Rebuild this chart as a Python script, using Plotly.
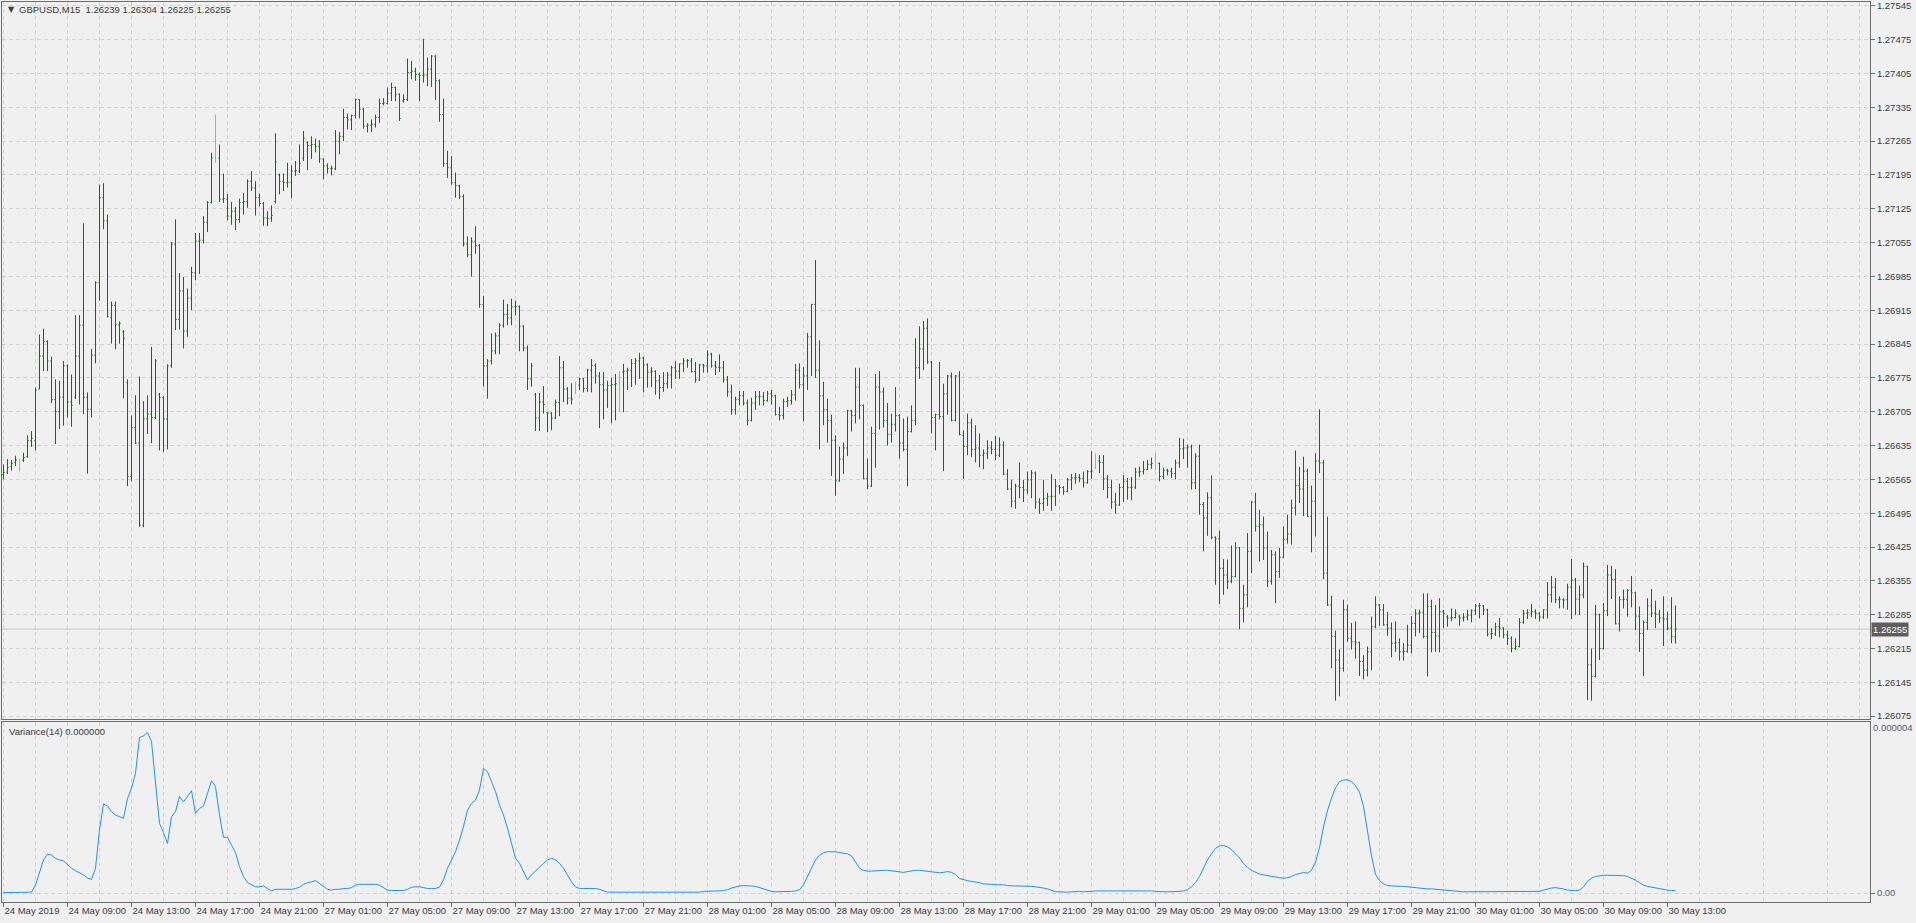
import plotly.graph_objects as go

# ---------------- data (prices in points, 1 point = 0.00001) ----------------
open_pts = [
126575,126580,126592,126600,126600,126605,126612,126645,126645,126752,
126820,126850,126810,126730,126705,126735,126800,126725,126735,126820,
126884,126735,126710,126822,126972,127148,127100,126900,126925,126885,
126870,126765,126571,126672,126640,126470,126690,126700,126693,126740,
126734,126690,126800,127052,126896,126955,126872,126940,126993,127058,
127060,127097,127138,127230,127230,127145,127145,127110,127120,127103,
127138,127140,127182,127168,127148,127136,127106,127106,127140,127195,
127182,127179,127180,127203,127203,127230,127262,127256,127258,127254,
127228,127214,127208,127208,127265,127275,127314,127309,127318,127351,
127331,127296,127298,127300,127314,127343,127343,127364,127376,127362,
127348,127351,127407,127410,127403,127401,127402,127414,127441,127390,
127320,127219,127210,127179,127173,127150,127052,127030,127058,127049,
126927,126800,126810,126831,126862,126884,126906,126899,126922,126922,
126882,126837,126773,126740,126692,126725,126703,126702,126692,126724,
126796,126752,126733,126760,126760,126773,126753,126791,126801,126779,
126761,126750,126759,126761,126787,126787,126789,126791,126805,126810,
126816,126802,126787,126788,126769,126755,126763,126781,126796,126789,
126804,126810,126810,126788,126771,126802,126800,126824,126800,126797,
126796,126771,126746,126709,126730,126738,126723,126687,126723,126736,
126736,126728,126742,126738,126699,126697,126726,126728,126740,126791,
126761,126779,126860,126927,126791,126738,126709,126687,126646,126562,
126607,126630,126707,126697,126756,126718,126567,126551,126660,126756,
126746,126687,126658,126679,126697,126640,126627,126664,126687,126796,
126835,126878,126808,126693,126699,126695,126742,126779,126687,126779,
126656,126633,126682,126627,126630,126615,126619,126630,126627,126615,
126636,126576,126545,126520,126551,126548,126543,126564,126578,126518,
126515,126525,126529,126530,126551,126548,126540,126564,126568,126569,
126567,126558,126581,126603,126603,126600,126566,126548,126518,126512,
126548,126561,126548,126549,126580,126581,126585,126596,126598,126598,
126571,126584,126582,126577,126599,126628,126630,126632,126558,126613,
126513,126485,126527,126445,126442,126381,126367,126354,126364,126423,
126298,126326,126416,126518,126468,126471,126423,126354,126409,126374,
126404,126441,126452,126506,126552,126545,126582,126488,126520,126603,
126599,126371,126305,126240,126191,126174,126295,126236,126229,126227,
126188,126170,126208,126260,126305,126295,126264,126257,126226,126227,
126208,126209,126222,126267,126288,126289,126240,126302,126248,126241,
126291,126280,126278,126279,126282,126278,126280,126284,126293,126303,
126303,126295,126245,126245,126260,126257,126243,126236,126215,126219,
126269,126288,126288,126291,126288,126280,126295,126326,126342,126316,
126316,126316,126342,126357,126317,126326,126385,126181,126157,126285,
126215,126293,126367,126358,126266,126316,126316,126335,126330,126282,
126246,126269,126303,126288,126286,126278,126276,126257,126239]

high_pts = [
126596,126607,126605,126614,126607,126620,126656,126665,126755,126865,
126877,126853,126819,126772,126769,126810,126803,126782,126905,126905,
127095,126745,126835,126975,127175,127178,127113,126933,126933,126892,
126874,126772,126697,126739,126778,126727,126739,126839,126814,126744,
126737,126803,127056,127103,126992,126984,126960,127005,127075,127075,
127110,127141,127241,127320,127258,127198,127156,127139,127129,127146,
127158,127186,127203,127182,127156,127139,127120,127132,127281,127198,
127198,127220,127215,127224,127258,127286,127265,127275,127270,127267,
127229,127219,127214,127288,127284,127332,127322,127320,127353,127352,
127334,127302,127310,127320,127353,127354,127376,127386,127378,127364,
127362,127436,127431,127417,127407,127477,127438,127443,127443,127393,
127353,127245,127234,127200,127175,127155,127068,127066,127089,127052,
126945,126814,126867,126869,126888,126937,126928,126939,126935,126925,
126884,126842,126806,126744,126744,126758,126704,126704,126730,126820,
126810,126756,126764,126767,126775,126775,126794,126814,126805,126787,
126787,126769,126775,126783,126789,126804,126796,126814,126816,126827,
126819,126805,126797,126791,126781,126787,126787,126800,126810,126805,
126816,126814,126816,126808,126804,126804,126832,126827,126810,126824,
126810,126779,126761,126736,126748,126748,126730,126734,126748,126748,
126746,126748,126750,126740,126715,126732,126736,126750,126804,126805,
126797,126868,126928,127019,126853,126767,126732,126699,126656,126633,
126641,126709,126709,126796,126796,126720,126608,126674,126783,126789,
126755,126723,126701,126756,126700,126691,126695,126718,126857,126882,
126893,126898,126810,126701,126808,126763,126781,126786,126781,126789,
126666,126701,126691,126677,126660,126627,126646,126644,126655,126652,
126644,126586,126564,126556,126600,126564,126581,126584,126581,126526,
126564,126537,126576,126566,126553,126551,126568,126576,126578,126576,
126581,126584,126623,126619,126615,126615,126574,126564,126537,126556,
126574,126568,126570,126589,126591,126603,126605,126610,126620,126600,
126589,126587,126589,126606,126651,126649,126637,126637,126619,126637,
126518,126538,126573,126447,126459,126400,126399,126428,126435,126425,
126347,126454,126520,126537,126502,126488,126457,126419,126416,126423,
126468,126492,126523,126625,126591,126612,126587,126552,126619,126710,
126605,126488,126324,126252,126213,126316,126306,126268,126271,126229,
126201,126219,126281,126323,126307,126307,126291,126269,126271,126236,
126226,126264,126282,126296,126295,126329,126329,126316,126305,126319,
126295,126284,126298,126296,126284,126288,126295,126296,126307,126309,
126305,126297,126257,126268,126278,126259,126252,126240,126236,126278,
126295,126296,126307,126296,126290,126296,126352,126365,126361,126323,
126319,126349,126400,126361,126345,126393,126386,126215,126305,126287,
126309,126388,126386,126379,126323,126337,126338,126365,126332,126302,
126273,126319,126338,126314,126295,126323,126291,126321,126304]

low_pts = [
126565,126576,126583,126593,126581,126601,126610,126632,126625,126752,
126789,126789,126723,126638,126669,126676,126693,126674,126731,126720,
126700,126577,126693,126805,126935,127083,126900,126846,126834,126846,
126733,126551,126561,126638,126467,126466,126659,126640,126690,126625,
126622,126627,126796,126874,126875,126836,126860,126915,126977,126990,
127053,127077,127136,127220,127139,127137,127101,127092,127081,127096,
127113,127127,127162,127111,127130,127090,127089,127098,127136,127155,
127162,127169,127147,127193,127199,127224,127205,127228,127242,127220,
127186,127198,127194,127205,127238,127265,127289,127288,127312,127312,
127291,127283,127284,127293,127303,127339,127341,127348,127348,127307,
127345,127348,127393,127390,127348,127386,127379,127377,127350,127305,
127212,127189,127175,127148,127145,127047,127025,126985,127032,126920,
126757,126732,126803,126824,126824,126879,126884,126884,126904,126830,
126830,126750,126757,126665,126665,126701,126663,126667,126690,126696,
126725,126720,126720,126742,126750,126745,126746,126745,126763,126671,
126689,126713,126681,126687,126705,126704,126750,126756,126761,126773,
126745,126755,126756,126740,126731,126746,126753,126753,126773,126773,
126787,126796,126786,126765,126769,126786,126786,126796,126781,126787,
126765,126736,126699,126699,126718,126718,126677,126685,126709,126718,
126718,126726,126720,126697,126687,126689,126715,126720,126728,126753,
126685,126750,126779,126775,126627,126677,126641,126572,126531,126560,
126576,126613,126664,126681,126689,126565,126545,126549,126589,126668,
126672,126635,126641,126664,126608,126623,126551,126662,126677,126773,
126791,126804,126660,126625,126689,126582,126699,126685,126685,126656,
126566,126615,126611,126600,126590,126586,126607,126617,126605,126611,
126574,126543,126507,126504,126526,126518,126535,126526,126504,126494,
126500,126510,126500,126510,126535,126533,126538,126543,126556,126559,
126548,126556,126566,126586,126578,126543,126526,126504,126494,126510,
126518,126523,126522,126545,126570,126575,126584,126587,126584,126561,
126565,126573,126568,126565,126589,126607,126589,126544,126545,126492,
126416,126448,126441,126347,126307,126326,126338,126350,126362,126255,
126269,126300,126371,126457,126395,126398,126342,126347,126309,126361,
126402,126432,126430,126490,126516,126489,126487,126414,126447,126578,
126358,126303,126174,126107,126116,126167,126229,126213,126194,126158,
126151,126157,126170,126257,126262,126262,126241,126197,126208,126190,
126190,126206,126205,126240,126247,126236,126157,126207,126208,126207,
126257,126260,126271,126277,126262,126271,126273,126269,126284,126277,
126284,126240,126234,126241,126238,126236,126222,126207,126212,126217,
126266,126276,126280,126276,126271,126276,126277,126310,126309,126298,
126298,126295,126276,126284,126284,126319,126108,126107,126155,126191,
126213,126282,126317,126265,126250,126298,126281,126300,126253,126208,
126158,126253,126280,126257,126268,126220,126253,126226,126225]

close_pts = [
126579,126590,126598,126605,126600,126610,126645,126650,126750,126820,
126850,126810,126730,126705,126735,126800,126725,126718,126820,126884,
126735,126710,126822,126972,127148,127100,126902,126925,126885,126888,
126857,126571,126672,126640,126470,126690,126700,126693,126810,126734,
126690,126800,127052,126896,126955,126872,126940,126993,127058,127060,
127097,127138,127230,127230,127145,127146,127110,127120,127103,127138,
127140,127182,127168,127148,127136,127106,127105,127111,127222,127182,
127179,127180,127203,127204,127219,127271,127256,127258,127254,127228,
127214,127208,127209,127265,127275,127314,127309,127318,127351,127331,
127296,127298,127300,127314,127343,127344,127364,127376,127362,127312,
127351,127407,127410,127403,127401,127402,127414,127441,127390,127320,
127219,127210,127179,127173,127150,127052,127030,127058,127049,126927,
126800,126810,126831,126862,126884,126906,126899,126922,126923,126882,
126837,126773,126800,126692,126725,126720,126702,126692,126724,126796,
126752,126733,126731,126760,126773,126753,126791,126801,126779,126761,
126750,126759,126761,126763,126787,126789,126791,126805,126810,126816,
126802,126787,126788,126769,126755,126763,126781,126796,126789,126804,
126810,126811,126788,126771,126802,126800,126824,126800,126797,126796,
126771,126746,126709,126730,126738,126723,126687,126723,126736,126737,
126728,126742,126738,126699,126697,126726,126728,126740,126791,126761,
126779,126860,126927,126791,126738,126709,126687,126646,126562,126607,
126630,126707,126697,126756,126718,126567,126551,126660,126756,126746,
126687,126658,126679,126697,126640,126627,126664,126687,126796,126835,
126878,126808,126693,126699,126695,126742,126779,126687,126779,126658,
126633,126682,126627,126630,126615,126619,126630,126627,126615,126636,
126576,126545,126520,126551,126548,126543,126564,126578,126518,126515,
126525,126529,126530,126551,126548,126540,126564,126568,126569,126567,
126558,126581,126582,126603,126600,126566,126548,126518,126512,126548,
126561,126548,126549,126580,126581,126585,126596,126598,126598,126571,
126584,126582,126577,126599,126628,126630,126632,126558,126613,126513,
126485,126527,126445,126442,126381,126367,126354,126364,126423,126298,
126326,126416,126518,126468,126471,126423,126354,126409,126374,126404,
126441,126452,126506,126552,126545,126582,126488,126520,126603,126599,
126371,126305,126240,126191,126174,126295,126236,126229,126227,126188,
126170,126208,126260,126305,126295,126264,126257,126226,126227,126208,
126209,126222,126267,126288,126289,126240,126302,126248,126241,126291,
126288,126278,126279,126288,126278,126280,126284,126293,126303,126304,
126295,126245,126246,126260,126257,126243,126236,126215,126219,126269,
126288,126289,126291,126288,126280,126295,126326,126342,126316,126317,
126315,126342,126357,126317,126326,126385,126181,126157,126285,126215,
126293,126367,126358,126266,126316,126317,126335,126330,126282,126246,
126269,126303,126288,126286,126278,126276,126257,126240,126255]

# bars drawn in the "doji" colour (open == close)
doji_bars = [4, 53, 143, 154, 273, 288]

# Variance(14), in units of 1e-6
variance_e6 = [
0.01,0.01,0.01,0.01,0.01,0.01,0.01,0.02,0.19,0.48,
0.80,0.94,0.92,0.84,0.80,0.78,0.68,0.60,0.54,0.49,
0.44,0.36,0.33,0.60,1.53,2.16,2.11,1.97,1.89,1.85,
1.81,2.29,2.54,2.90,3.77,3.81,3.89,3.67,2.66,1.69,
1.46,1.20,1.85,1.97,2.34,2.21,2.34,2.48,1.93,2.05,
2.11,2.40,2.72,2.58,1.89,1.35,1.35,1.16,0.98,0.64,
0.40,0.25,0.19,0.15,0.15,0.17,0.11,0.05,0.09,0.09,
0.09,0.09,0.09,0.11,0.14,0.21,0.25,0.27,0.30,0.23,
0.15,0.09,0.07,0.09,0.09,0.11,0.11,0.13,0.19,0.21,
0.21,0.21,0.21,0.21,0.19,0.14,0.07,0.06,0.06,0.06,
0.06,0.09,0.14,0.15,0.15,0.13,0.11,0.11,0.11,0.14,
0.32,0.60,0.80,1.00,1.28,1.61,2.01,2.17,2.25,2.50,
3.02,2.94,2.70,2.46,2.13,1.89,1.57,1.20,0.84,0.72,
0.52,0.32,0.44,0.54,0.64,0.72,0.80,0.84,0.80,0.72,
0.60,0.44,0.27,0.15,0.11,0.11,0.11,0.11,0.11,0.09,
0.06,0.02,0.02,0.02,0.02,0.02,0.02,0.02,0.02,0.02,
0.02,0.02,0.02,0.02,0.02,0.02,0.02,0.02,0.02,0.02,
0.02,0.02,0.02,0.02,0.02,0.04,0.04,0.04,0.05,0.05,
0.06,0.08,0.12,0.15,0.17,0.18,0.18,0.17,0.16,0.13,
0.10,0.07,0.04,0.03,0.03,0.03,0.03,0.04,0.05,0.08,
0.20,0.40,0.60,0.80,0.92,0.98,1.00,1.00,1.00,0.98,
0.97,0.95,0.90,0.75,0.60,0.55,0.53,0.53,0.54,0.55,
0.55,0.55,0.54,0.53,0.52,0.50,0.52,0.54,0.55,0.55,
0.54,0.53,0.52,0.50,0.49,0.50,0.52,0.50,0.45,0.35,
0.32,0.30,0.28,0.27,0.25,0.22,0.22,0.21,0.20,0.20,
0.20,0.18,0.17,0.17,0.17,0.17,0.16,0.16,0.15,0.14,
0.12,0.10,0.06,0.03,0.03,0.02,0.02,0.03,0.04,0.04,
0.03,0.03,0.04,0.05,0.05,0.05,0.05,0.05,0.06,0.06,
0.06,0.06,0.06,0.06,0.06,0.06,0.06,0.05,0.04,0.03,
0.03,0.03,0.03,0.03,0.04,0.05,0.08,0.15,0.25,0.40,
0.60,0.80,0.95,1.08,1.14,1.15,1.12,1.05,0.95,0.85,
0.72,0.62,0.55,0.50,0.46,0.44,0.42,0.40,0.38,0.37,
0.36,0.37,0.40,0.45,0.47,0.50,0.48,0.55,0.75,1.10,
1.60,2.00,2.30,2.55,2.70,2.74,2.74,2.70,2.60,2.45,
2.10,1.50,0.90,0.45,0.30,0.22,0.18,0.17,0.17,0.16,
0.16,0.15,0.14,0.12,0.11,0.10,0.10,0.10,0.09,0.09,
0.08,0.07,0.06,0.05,0.03,0.03,0.03,0.03,0.04,0.04,
0.04,0.04,0.04,0.04,0.04,0.04,0.04,0.04,0.04,0.04,
0.04,0.04,0.03,0.03,0.04,0.07,0.10,0.12,0.13,0.12,
0.10,0.07,0.06,0.06,0.07,0.15,0.28,0.36,0.40,0.42,
0.43,0.43,0.43,0.43,0.43,0.42,0.40,0.36,0.31,0.25,
0.19,0.16,0.14,0.12,0.10,0.08,0.07,0.06,0.06]

time_labels = [
"24 May 2019", "24 May 09:00", "24 May 13:00", "24 May 17:00", "24 May 21:00",
"27 May 01:00", "27 May 05:00", "27 May 09:00", "27 May 13:00", "27 May 17:00",
"27 May 21:00", "28 May 01:00", "28 May 05:00", "28 May 09:00", "28 May 13:00",
"28 May 17:00", "28 May 21:00", "29 May 01:00", "29 May 05:00", "29 May 09:00",
"29 May 13:00", "29 May 17:00", "29 May 21:00", "30 May 01:00", "30 May 05:00",
"30 May 09:00", "30 May 13:00"]
bars_per_label = 16

price_ticks_pts = [126075 + 70 * k for k in range(22)]
current_price = 1.26255
title_text = "GBPUSD,M15  1.26239 1.26304 1.26225 1.26255"
indicator_text = "Variance(14) 0.000000"

# ---------------- build ----------------
n = min(len(open_pts), len(high_pts), len(low_pts), len(close_pts), len(variance_e6))
idx = list(range(n))
P = lambda a: [v / 1e5 for v in a[:n]]
O, H, L, C = P(open_pts), P(high_pts), P(low_pts), P(close_pts)

normal = [i for i in idx if i not in doji_bars]
dojis = [i for i in idx if i in doji_bars]

FONT = "Liberation Sans, Arial, sans-serif"
FS = 9.5
GREEN = "#007a00"
AXC = "#6e6e6e"
GRID = "#d2d2d2"
TXT = "#3a3a3a"
VTXT = "#4f5f78"

fig = go.Figure()
fig.add_trace(go.Ohlc(
    x=normal, open=[O[i] for i in normal], high=[H[i] for i in normal],
    low=[L[i] for i in normal], close=[C[i] for i in normal],
    increasing=dict(line=dict(color=GREEN, width=1)),
    decreasing=dict(line=dict(color=GREEN, width=1)),
    tickwidth=0.3, xaxis="x", yaxis="y", hoverinfo="skip", showlegend=False))
if dojis:
    gaps = [b - a for a, b in zip(dojis, dojis[1:])] or [1]
    fig.add_trace(go.Ohlc(
        x=dojis, open=[O[i] for i in dojis], high=[H[i] for i in dojis],
        low=[L[i] for i in dojis], close=[C[i] for i in dojis],
        increasing=dict(line=dict(color="#a8a8a8", width=1)),
        decreasing=dict(line=dict(color="#a8a8a8", width=1)),
        tickwidth=min(0.5, 0.3 / min(gaps)), xaxis="x", yaxis="y",
        hoverinfo="skip", showlegend=False))

fig.add_trace(go.Scatter(
    x=idx, y=variance_e6[:n], mode="lines",
    line=dict(color="#1e90ff", width=1), xaxis="x2", yaxis="y2",
    hoverinfo="skip", showlegend=False))

W, Hh = 1916, 923
ml, mr, mt, mb = 2, 46, 2, 21
plot_w = W - ml - mr
plot_h = Hh - mt - mb
px_per_bar = 4
x0_px = 1.5              # pixel of bar 0 inside plot area (centre of a pixel)
xr = [-x0_px / px_per_bar, (plot_w - x0_px) / px_per_bar]

main_bottom_px = 719
sub_top_px = 722
main_dom = [(Hh - mb - main_bottom_px) / plot_h, 1.0]
sub_dom = [0.0, (Hh - mb - sub_top_px) / plot_h]

label_vals = [k * bars_per_label for k in range(len(time_labels))]

common_x = dict(range=xr, showline=True, linecolor=AXC, linewidth=1, mirror=True,
                zeroline=False, gridcolor=GRID, griddash="4px,3px", gridwidth=1,
                automargin=False)

fig.update_layout(
    width=W, height=Hh,
    margin=dict(l=ml, r=mr, t=mt, b=mb, pad=0, autoexpand=False),
    paper_bgcolor="#f0f0f0", plot_bgcolor="#f0f0f0",
    font=dict(family=FONT, size=FS, color=TXT),
    showlegend=False,
    xaxis=dict(**common_x, anchor="y", showticklabels=False, ticks="",
               tickmode="linear", tick0=0, dtick=8, showgrid=True,
               rangeslider=dict(visible=False)),
    xaxis2=dict(**common_x, anchor="y2", matches="x", tickmode="array",
                tickvals=label_vals, ticktext=time_labels, ticks="outside",
                ticklen=4, tickcolor=AXC, showgrid=True, tickangle=0,
                ticklabelposition="outside right", ticklabeloverflow="allow",
                tickfont=dict(family=FONT, size=FS, color=TXT),
                minor=dict(tickmode="linear", tick0=8, dtick=16, showgrid=True,
                           gridcolor=GRID, griddash="4px,3px", ticks="")),
    yaxis=dict(domain=main_dom, side="right", range=[1.260690, 1.275530],
               tickmode="array", tickvals=[v / 1e5 for v in price_ticks_pts],
               tickformat=".5f", ticks="outside", ticklen=4, tickcolor=AXC,
               showline=True, linecolor=AXC, mirror=True, zeroline=False,
               showgrid=True, gridcolor=GRID, griddash="4px,3px",
               automargin=False, ticklabeloverflow="allow",
               tickfont=dict(family=FONT, size=FS, color=TXT)),
    yaxis2=dict(domain=sub_dom, side="right", range=[-0.218, 4.145],
                tickmode="array", tickvals=[0], ticktext=["0.00"],
                ticks="outside", ticklen=4, tickcolor=AXC,
                showline=True, linecolor=AXC, mirror=True, zeroline=False,
                showgrid=True, gridcolor=GRID, griddash="4px,3px",
                automargin=False, ticklabeloverflow="allow",
                tickfont=dict(family=FONT, size=FS, color=VTXT)),
)

# current price line
fig.add_shape(type="line", xref="x domain", yref="y", x0=0, x1=1,
              y0=current_price, y1=current_price,
              line=dict(color="#c4c4c4", width=1), layer="below")

px2fx = lambda px: (px - ml) / plot_w
px2fy = lambda py: (Hh - mb - py) / plot_h

fig.add_annotation(xref="paper", yref="y", x=1.0, y=current_price,
                   xanchor="left", yanchor="middle", xshift=1,
                   text=f"{current_price:.5f}", showarrow=False,
                   bgcolor="#5e5e5e", borderpad=1,
                   font=dict(family=FONT, size=FS, color="#ffffff"))
fig.add_annotation(xref="paper", yref="y2", x=1.0, y=4.0,
                   xanchor="left", yanchor="middle", xshift=1,
                   text="0.000004", showarrow=False,
                   font=dict(family=FONT, size=FS, color=VTXT))
fig.add_annotation(xref="paper", yref="paper", x=px2fx(6), y=px2fy(10),
                   xanchor="left", yanchor="middle", text="▼", showarrow=False,
                   font=dict(family="DejaVu Sans", size=8, color="#404040"))
fig.add_annotation(xref="paper", yref="paper", x=px2fx(17), y=px2fy(10),
                   xanchor="left", yanchor="middle", text=title_text,
                   showarrow=False, font=dict(family=FONT, size=FS, color=TXT))
fig.add_annotation(xref="paper", yref="paper", x=px2fx(7), y=px2fy(731),
                   xanchor="left", yanchor="middle", text=indicator_text,
                   showarrow=False, font=dict(family=FONT, size=FS, color=TXT))

fig.write_html("out.html", config={"displayModeBar": False},
               post_script="document.body.style.margin='0';document.body.style.overflow='hidden';")
